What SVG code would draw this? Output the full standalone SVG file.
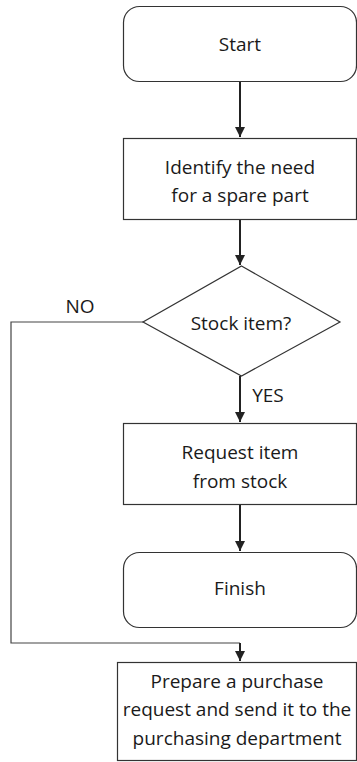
<svg xmlns="http://www.w3.org/2000/svg" width="357" height="762" viewBox="0 0 357 762">
<style>
.box{fill:#fff;stroke:#333;stroke-width:1.2}
.t{font-family:"Open Sans","DejaVu Sans",sans-serif;font-size:19px;fill:#1a1a1a;text-anchor:middle}
.c{fill:none;stroke:#222;stroke-width:2}
.c1{fill:none;stroke:#444;stroke-width:1.2}
</style>
<defs>
<marker id="ah" viewBox="0 0 10 10" refX="10" refY="5" markerWidth="10" markerHeight="10" markerUnits="userSpaceOnUse" orient="auto">
<path d="M0,0 L10,5 L0,10 z" fill="#222"/>
</marker>
</defs>
<g id="connectors">
<line class="c" x1="240" y1="82" x2="240" y2="137" marker-end="url(#ah)"/>
<line class="c" x1="240" y1="220" x2="240" y2="265" marker-end="url(#ah)"/>
<line class="c" x1="240" y1="376" x2="240" y2="422" marker-end="url(#ah)"/>
<line class="c" x1="240" y1="505" x2="240" y2="551" marker-end="url(#ah)"/>
<polyline class="c1" points="143,322 11,322 11,643 240,643"/>
<line class="c" x1="240" y1="643" x2="240" y2="661" marker-end="url(#ah)"/>
<text class="t" x="80" y="313">NO</text>
<text class="t" x="268" y="402">YES</text>
</g>
<g id="start">
<rect class="box" x="123.5" y="6.5" width="233" height="75" rx="16"/>
<text class="t" x="240" y="51">Start</text>
</g>
<g id="identify">
<rect class="box" x="123.5" y="138.5" width="233" height="81"/>
<text class="t" x="240" y="174">Identify the need</text>
<text class="t" x="240" y="202">for a spare part</text>
</g>
<g id="stock">
<polygon class="box" points="241.5,266 340,322 241.5,376 143,322"/>
<text class="t" x="241" y="330">Stock item?</text>
</g>
<g id="request">
<rect class="box" x="123.5" y="423.5" width="233" height="81"/>
<text class="t" x="240" y="459">Request item</text>
<text class="t" x="240" y="488">from stock</text>
</g>
<g id="finish">
<rect class="box" x="123.5" y="552.5" width="233" height="75" rx="16"/>
<text class="t" x="240" y="595">Finish</text>
</g>
<g id="purchase">
<rect class="box" x="117.5" y="662.5" width="239" height="98"/>
<text class="t" x="237" y="688">Prepare a purchase</text>
<text class="t" x="237" y="716">request and send it to the</text>
<text class="t" x="237" y="745">purchasing department</text>
</g>
</svg>
